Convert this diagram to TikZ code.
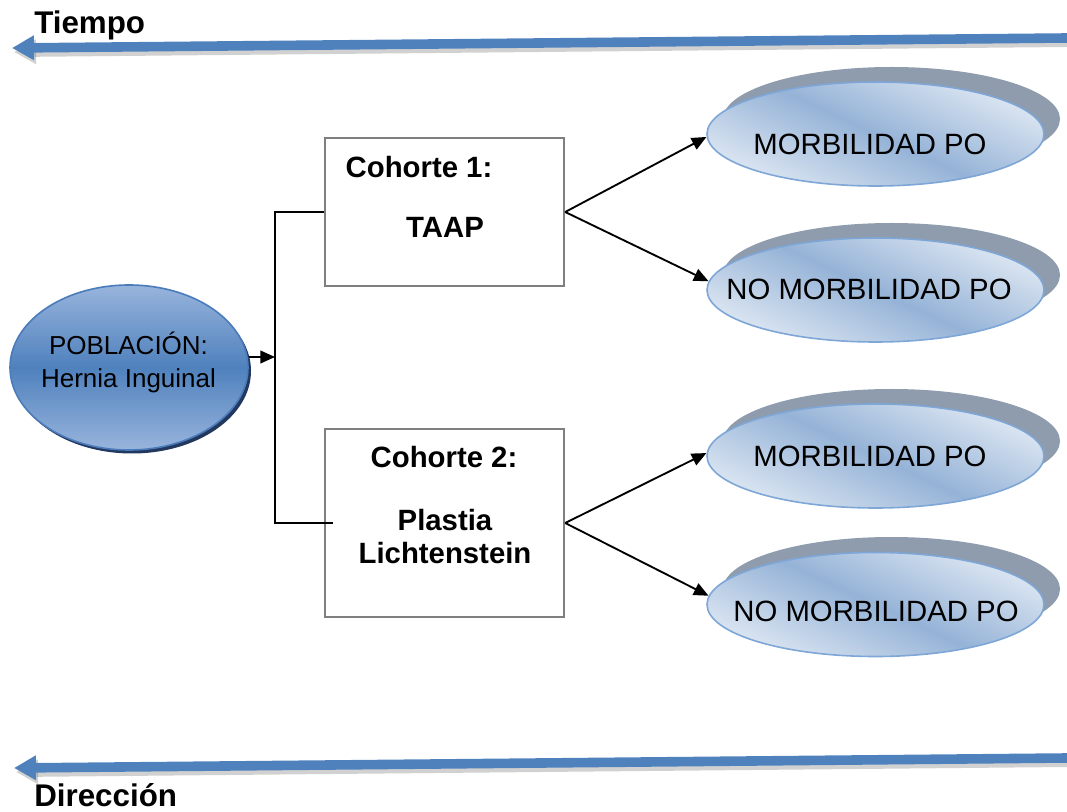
\documentclass[tikz,border=0pt]{standalone}
\usepackage{fontspec}
\setmainfont{Liberation Sans}
\usetikzlibrary{arrows.meta,shapes.geometric,fit}
\definecolor{arrowblue}{HTML}{4F81BD}
\definecolor{boxgray}{HTML}{7F7F7F}
\definecolor{olight}{HTML}{DCE6F2}
\definecolor{omid}{HTML}{95B3D7}
\definecolor{obord}{HTML}{7EA6D6}
\definecolor{backgray}{HTML}{8E9CAD}
\definecolor{plight}{HTML}{98B4DC}
\definecolor{pmid}{HTML}{4F81BD}
\definecolor{pbord}{HTML}{4A7BBA}
\definecolor{pshadow}{HTML}{22385E}
\begin{document}
\begin{tikzpicture}[x=0.75pt,y=-0.75pt,
  bigarrow/.style={line width=7.2pt, draw=arrowblue, -{Triangle[length=16.5pt,width=17.5pt]}},
  bigshadow/.style={line width=7.5pt, draw=black, opacity=0.18, -{Triangle[length=16.5pt,width=17.5pt]}},
  cohortbox/.style={draw=boxgray, line width=1.8pt, inner sep=0pt, fill=white},
  outcome/.style={ellipse, minimum width=252.75pt, minimum height=78pt, inner sep=0pt,
     draw=obord, line width=1.2pt, top color=olight, bottom color=olight, middle color=omid, shading angle=-25},
  outback/.style={ellipse, minimum width=252.75pt, minimum height=78pt, inner sep=0pt, fill=backgray},
  popell/.style={ellipse, minimum width=178.5pt, minimum height=123.75pt, inner sep=0pt,
     draw=pbord, line width=1.2pt, top color=plight, bottom color=plight, middle color=pmid},
  popshadow/.style={ellipse, minimum width=178.5pt, minimum height=123.75pt, inner sep=0pt, fill=pshadow},
  conn/.style={line width=1.4pt, draw=black, -{Triangle[length=11pt,width=9.5pt]}},
  plain/.style={line width=1.4pt, draw=black},
  big/.style={font=\fontsize{22}{26}\selectfont},
  bigb/.style={font=\bfseries\fontsize{22}{26}\selectfont},
  titleb/.style={font=\bfseries\fontsize{23.5}{28}\selectfont, inner sep=0pt},
  poptxt/.style={font=\fontsize{19.5}{23}\selectfont, inner sep=0pt}
]
\useasboundingbox (0,0) rectangle (1067,812);

% time arrows
\coordinate (t1) at (1067,38);
\coordinate (t0) at (12,48);
\coordinate (t1s) at (1067,42);
\coordinate (t0s) at (14,52);
\draw[bigshadow] (t1s) -- (t0s);
\draw[bigarrow] (t1) -- (t0);
\node[titleb, anchor=base west] (tiempo) at (34,34) {Tiempo};

\coordinate (d1) at (1067,758);
\coordinate (d0) at (14,768);
\coordinate (d1s) at (1067,762);
\coordinate (d0s) at (16,772);
\draw[bigshadow] (d1s) -- (d0s);
\draw[bigarrow] (d1) -- (d0);
\node[titleb, anchor=base west] (direccion) at (34,806) {Dirección};

% population
\node[popshadow] (popsh) at (132,371) {};
\node[popell] (pop) at (129,367.5) {};
\node[poptxt, anchor=base] (poptext1) at (128.5,355) {POBLACIÓN:};
\node[poptxt, anchor=base] (poptext2) at (128.5,388) {Hernia Inguinal};

% cohort boxes
\node[cohortbox, fit={(325,138) (564,286)}] (box1) {};
\node[cohortbox, fit={(325,429) (564,617)}] (box2) {};
\node[bigb, anchor=base, inner sep=0pt] (c1a) at (419,178) {Cohorte 1:};
\node[bigb, anchor=base, inner sep=0pt] (c1b) at (445,238) {TAAP};
\node[bigb, anchor=base, inner sep=0pt] (c2a) at (444,468) {Cohorte 2:};
\node[bigb, anchor=base, inner sep=0pt] (c2b) at (445,530) {Plastia};
\node[bigb, anchor=base, inner sep=0pt] (c2c) at (445,563) {Lichtenstein};

% outcome ellipses
\node[outback] (b1) at (891.5,119) {};
\node[outback] (b2) at (891.5,275) {};
\node[outback] (b3) at (891.5,441) {};
\node[outback] (b4) at (891.5,589) {};
\node[outcome] (m1) at (875.5,134) {};
\node[outcome] (m2) at (875.5,290) {};
\node[outcome] (m3) at (875.5,456) {};
\node[outcome] (m4) at (875.5,604.5) {};
\node[big, anchor=base, inner sep=0pt] (m1t) at (870,155) {MORBILIDAD PO};
\node[big, anchor=base, inner sep=0pt] (m2t) at (869,300) {NO MORBILIDAD PO};
\node[big, anchor=base, inner sep=0pt] (m3t) at (870,467) {MORBILIDAD PO};
\node[big, anchor=base, inner sep=0pt] (m4t) at (876,621) {NO MORBILIDAD PO};

% connectors
\coordinate (j) at (275,357);
\coordinate (b2in) at (333,523);
\draw[conn] (pop.east |- j) -- (j);
\draw[plain] (box1.west) -| (j) |- (b2in);
\draw[conn] (box1.east) -- (m1.181.5);
\draw[conn] (box1.east) -- (m2.177.5);
\draw[conn] (box2.east) -- (m3.179);
\draw[conn] (box2.east) -- (m4.177);
\end{tikzpicture}
\end{document}
